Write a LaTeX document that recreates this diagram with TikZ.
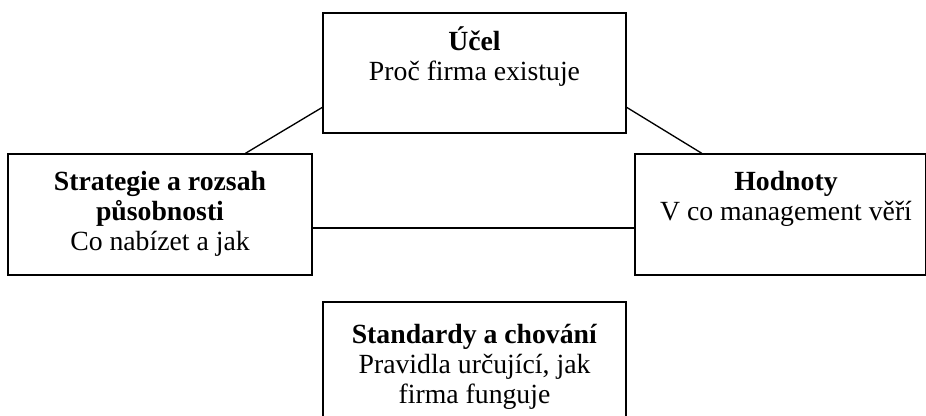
\documentclass[tikz,border=0pt]{standalone}
\usepackage{fontspec}
\setmainfont{Liberation Serif}
\usetikzlibrary{fit,calc}
\tikzset{
  box/.style={draw, line width=1.1pt, rectangle, inner sep=0pt},
  label text/.style={align=center, inner sep=0pt, anchor=base,
    font=\fontsize{20.8}{22.3}\selectfont},
  link/.style={line width=1pt}
}
\begin{document}
\begin{tikzpicture}[x=0.75pt, y=-0.75pt]
  \useasboundingbox (0,0) rectangle (926,415);
  \clip (0,0) rectangle (926,415);
  % frames
  \node[box, fit={(323,13)(626,133)}] (purpose) {};
  \node[box, fit={(8,154)(312,275)}] (strategy) {};
  \node[box, fit={(635,154)(925.5,275)}] (values) {};
  \node[box, fit={(323,302)(626,440)}] (standards) {};
  % captions (anchored on the baseline of their last line)
  \node[label text] (purposeT) at (474.5,80) {\textbf{Účel}\\Proč firma existuje};
  \node[label text] (strategyT) at (160,250) {\textbf{Strategie a rozsah}\\\textbf{působnosti}\\Co nabízet a jak};
  \node[label text] (valuesT) at (786,220) {\textbf{Hodnoty}\\V co management věří};
  \node[label text] (standardsT) at (474.5,403) {\textbf{Standardy a chování}\\Pravidla určující, jak\\firma funguje};
  % connectors
  \draw[link] ($(purpose.north west)!0.783!(purpose.south west)$) -- ($(strategy.north west)!0.78!(strategy.north east)$);
  \draw[link] ($(purpose.north east)!0.783!(purpose.south east)$) -- ($(values.north west)!0.231!(values.north east)$);
  \draw[link] ($(strategy.north east)!0.61!(strategy.south east)$) -- ($(values.north west)!0.61!(values.south west)$);
\end{tikzpicture}
\end{document}
